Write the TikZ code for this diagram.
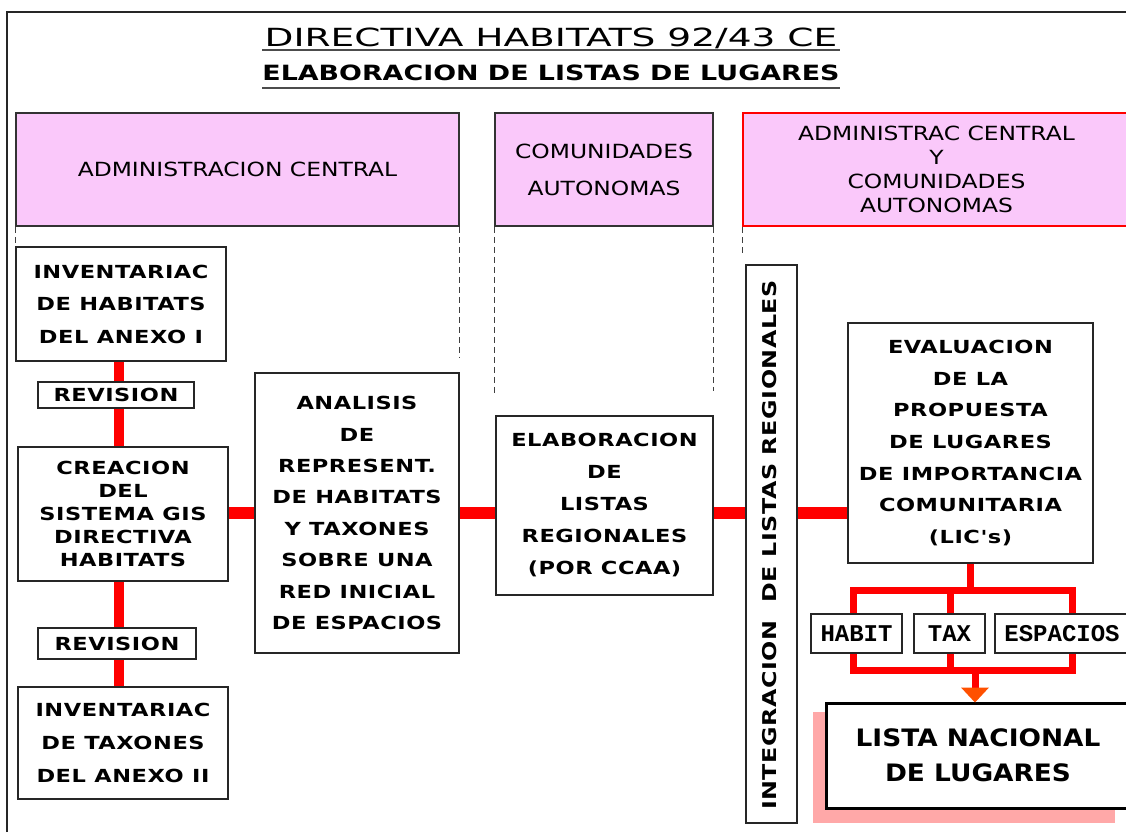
\documentclass[tikz,border=0pt]{standalone}
\usepackage{fontspec}
\newfontfamily\ttlfont{DejaVu Sans}[FakeStretch=1.5]
\newfontfamily\ttlbfont{DejaVu Sans}[FakeStretch=1.28]
\newfontfamily\hdfont{DejaVu Sans}[FakeStretch=1.2]
\newfontfamily\bxfont{DejaVu Sans}[FakeStretch=1.25,LetterSpace=3]
\newfontfamily\bigfont{DejaVu Sans}[FakeStretch=1.1]
\newfontfamily\crfont{Liberation Mono}
\definecolor{hpink}{RGB}{250,200,250}
\definecolor{shad}{RGB}{255,168,168}
\definecolor{arr}{RGB}{255,80,0}
\tikzset{
  box/.style={draw=black!85, line width=1.5pt, fill=white, inner sep=0pt, align=center},
  hdr/.style={draw=black!80, line width=1.5pt, fill=hpink, inner sep=0pt, align=center},
  link/.style={draw=red, line width=12pt},
  vlink/.style={draw=red, line width=10pt},
  tree/.style={draw=red, line width=7pt, line join=miter},
  guide/.style={draw=black!75, line width=1pt, dash pattern=on 6pt off 4pt},
  bxtxt/.style={font={\bxfont\bfseries\fontsize{18}{#1}\selectfont}},
  hdtxt/.style={font={\hdfont\fontsize{19.5}{#1}\selectfont}}
}
\begin{document}
\begin{tikzpicture}[x=1pt,y=-1pt]
\useasboundingbox (0,0) rectangle (1126,832);
\fill[white] (0,0) rectangle (1126,832);
% frame
\draw[line width=2pt, black!85] (7,832) -- (7,12) -- (1126,12);
% titles
\node[font={\ttlfont\fontsize{25}{30}\selectfont}, inner sep=0pt] (t1) at (551,38) {DIRECTIVA HABITATS 92/43 CE};
\draw[line width=2.5pt, black!70] (262,50) -- (840,50);
\node[font={\ttlbfont\bfseries\fontsize{21}{26}\selectfont}, inner sep=0pt] (t2) at (551,73) {ELABORACION DE LISTAS DE LUGARES};
\draw[line width=2.5pt, black!70] (262,88) -- (840,88);
% headers
\node[hdr, hdtxt=24, minimum width=443pt, minimum height=113pt] (h1) at (237.5,169.5) {ADMINISTRACION CENTRAL};
\node[hdr, hdtxt=37, minimum width=218pt, minimum height=113pt] (h2) at (604,169.5) {COMUNIDADES\\AUTONOMAS};
\node[hdr, hdtxt=24, draw=red, minimum width=387pt, minimum height=113pt] (h3) at (936.5,169.5) {ADMINISTRAC CENTRAL\\Y\\COMUNIDADES\\AUTONOMAS};
% guides
\draw[guide] (h1.south west) -- ++(0,19);
\draw[guide] (h1.south east) -- ++(0,131);
\draw[guide] (h2.south west) -- ++(0,167);
\draw[guide] (h2.south east) -- ++(0,164);
\draw[guide] (h3.south west) -- ++(0,29);
% left column
\node[box, bxtxt=32.5, minimum width=210pt, minimum height=114pt] (inv1) at (121,304) {INVENTARIAC\\DE HABITATS\\DEL ANEXO I};
\node[box, bxtxt=20, minimum width=156pt, minimum height=26pt] (rev1) at (116,395) {REVISION};
\node[box, bxtxt=23, minimum width=210pt, minimum height=134pt] (crea) at (123,514) {CREACION\\DEL\\SISTEMA GIS\\DIRECTIVA\\HABITATS};
\node[box, bxtxt=20, minimum width=158pt, minimum height=31pt] (rev2) at (117,643.5) {REVISION};
\node[box, bxtxt=33, minimum width=210pt, minimum height=112pt] (inv2) at (123,743) {INVENTARIAC\\DE TAXONES\\DEL ANEXO II};
\coordinate (lx) at (119,0);
\draw[vlink] (lx |- inv1.south) -- (lx |- rev1.north);
\draw[vlink] (lx |- rev1.south) -- (lx |- crea.north);
\draw[vlink] (lx |- crea.south) -- (lx |- rev2.north);
\draw[vlink] (lx |- rev2.south) -- (lx |- inv2.north);
% analysis
\node[box, bxtxt=31.4, minimum width=204pt, minimum height=280pt] (anal) at (357,513) {ANALISIS\\DE\\REPRESENT.\\DE HABITATS\\Y TAXONES\\SOBRE UNA\\RED INICIAL\\DE ESPACIOS};
\node[box, bxtxt=32, minimum width=217pt, minimum height=179pt] (elab) at (604.5,505.5) {ELABORACION\\DE\\LISTAS\\REGIONALES\\(POR CCAA)};
\node[box, minimum width=51pt, minimum height=558pt] (integ) at (771.5,544) {};
\node[font={\bxfont\bfseries\fontsize{19}{20}\selectfont}, rotate=90, inner sep=0pt] (integtxt) at (770,545) {INTEGRACION~~DE LISTAS REGIONALES};
\node[box, bxtxt=31.7, minimum width=245pt, minimum height=240pt] (eval) at (970.5,443) {EVALUACION\\DE LA\\PROPUESTA\\DE LUGARES\\DE IMPORTANCIA\\COMUNITARIA\\(LIC's)};
\coordinate (my) at (0,513);
\draw[link] (crea.east |- my) -- (anal.west |- my);
\draw[link] (anal.east |- my) -- (elab.west |- my);
\draw[link] (elab.east |- my) -- (integ.west |- my);
\draw[link] (integ.east |- my) -- (eval.west |- my);
% tree
\node[box, font={\crfont\bfseries\fontsize{24}{26}\selectfont}, minimum width=91pt, minimum height=39pt] (habit) at (856.5,633.5) {HABIT};
\node[box, font={\crfont\bfseries\fontsize{24}{26}\selectfont}, minimum width=71pt, minimum height=39pt] (tax) at (949.5,633.5) {TAX};
\node[box, font={\crfont\bfseries\fontsize{24}{26}\selectfont}, minimum width=134pt, minimum height=39pt] (esp) at (1062,633.5) {ESPACIOS};
\coordinate (tl) at (853,590);
\coordinate (tc) at (950,590);
\coordinate (tr) at (1072,590);
\coordinate (bl) at (853,670);
\coordinate (bc) at (975,670);
\coordinate (br) at (1072,670);
\draw[tree] (eval.south) -- (eval.south |- tl);
\draw[tree] (tl |- habit.north) -- (tl) -- (tr) -- (tr |- esp.north);
\draw[tree] (tc) -- (tc |- tax.north);
\draw[tree] (tl |- habit.south) -- (bl) -- (br) -- (tr |- esp.south);
\draw[tree] (tc |- tax.south) -- (tc |- bl);
% final
\fill[shad] (813,712) rectangle (1115,823);
\node[box, line width=3pt, draw=black, font={\bigfont\bfseries\fontsize{24}{35}\selectfont}, minimum width=304pt, minimum height=105pt] (lista) at (978,755.5) {LISTA NACIONAL\\DE LUGARES};
\coordinate (tip) at (bc |- lista.north);
\draw[tree] (bc) -- ([yshift=14pt]tip);
\fill[arr] ([yshift=-1pt]tip) -- ++(-14,-15) -- ++(28,0) -- cycle;
\end{tikzpicture}
\end{document}
